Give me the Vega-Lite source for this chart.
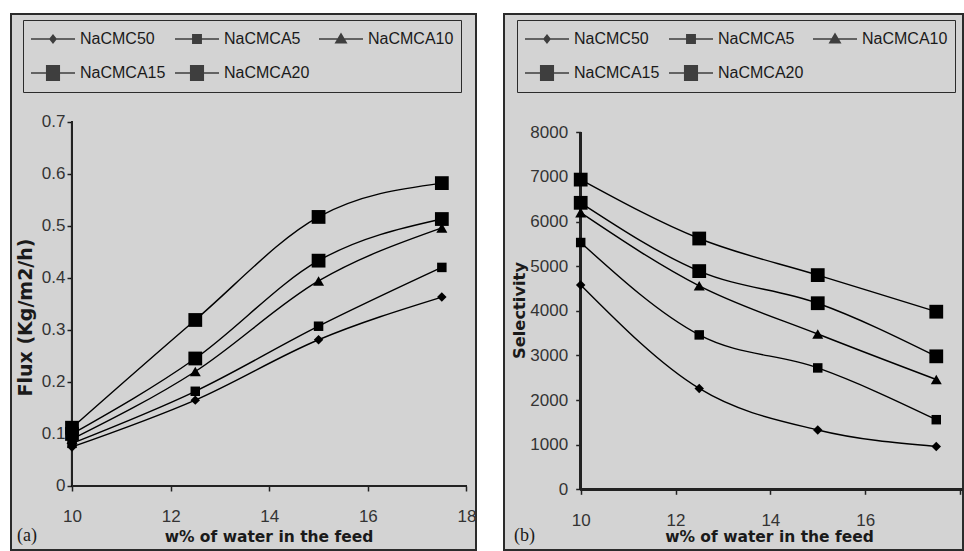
{
  "$schema": "https://vega.github.io/schema/vega-lite/v6.json",
  "background": "white",
  "padding": {"left": 10, "top": 13, "right": 0, "bottom": 0},
  "spacing": 26,
  "datasets": {
    "flux": [
      {"series": "NaCMC50", "w": 10, "v": 0.075}, {"series": "NaCMC50", "w": 12.5, "v": 0.165}, {"series": "NaCMC50", "w": 15, "v": 0.281}, {"series": "NaCMC50", "w": 17.5, "v": 0.363},
      {"series": "NaCMCA5", "w": 10, "v": 0.082}, {"series": "NaCMCA5", "w": 12.5, "v": 0.182}, {"series": "NaCMCA5", "w": 15, "v": 0.307}, {"series": "NaCMCA5", "w": 17.5, "v": 0.42},
      {"series": "NaCMCA10", "w": 10, "v": 0.09}, {"series": "NaCMCA10", "w": 12.5, "v": 0.22}, {"series": "NaCMCA10", "w": 15, "v": 0.394}, {"series": "NaCMCA10", "w": 17.5, "v": 0.496},
      {"series": "NaCMCA15", "w": 10, "v": 0.1}, {"series": "NaCMCA15", "w": 12.5, "v": 0.245}, {"series": "NaCMCA15", "w": 15, "v": 0.433}, {"series": "NaCMCA15", "w": 17.5, "v": 0.513},
      {"series": "NaCMCA20", "w": 10, "v": 0.112}, {"series": "NaCMCA20", "w": 12.5, "v": 0.319}, {"series": "NaCMCA20", "w": 15, "v": 0.517}, {"series": "NaCMCA20", "w": 17.5, "v": 0.582}
    ],
    "sel": [
      {"series": "NaCMC50", "w": 10, "v": 4580}, {"series": "NaCMC50", "w": 12.5, "v": 2260}, {"series": "NaCMC50", "w": 15, "v": 1330}, {"series": "NaCMC50", "w": 17.5, "v": 960},
      {"series": "NaCMCA5", "w": 10, "v": 5530}, {"series": "NaCMCA5", "w": 12.5, "v": 3460}, {"series": "NaCMCA5", "w": 15, "v": 2720}, {"series": "NaCMCA5", "w": 17.5, "v": 1560},
      {"series": "NaCMCA10", "w": 10, "v": 6200}, {"series": "NaCMCA10", "w": 12.5, "v": 4560}, {"series": "NaCMCA10", "w": 15, "v": 3480}, {"series": "NaCMCA10", "w": 17.5, "v": 2460},
      {"series": "NaCMCA15", "w": 10, "v": 6420}, {"series": "NaCMCA15", "w": 12.5, "v": 4890}, {"series": "NaCMCA15", "w": 15, "v": 4170}, {"series": "NaCMCA15", "w": 17.5, "v": 2980},
      {"series": "NaCMCA20", "w": 10, "v": 6940}, {"series": "NaCMCA20", "w": 12.5, "v": 5620}, {"series": "NaCMCA20", "w": 15, "v": 4800}, {"series": "NaCMCA20", "w": 17.5, "v": 3980}
    ]
  },
  "config": {
    "view": {"fill": "#d3d3d3", "stroke": "#2b2b2b", "strokeWidth": 2},
    "axis": {
      "domain": false, "grid": false, "tickColor": "#222222", "tickSize": 5, "tickWidth": 1.5,
      "labelColor": "#333333", "labelFont": "Liberation Sans", "labelFontSize": 17,
      "titleFont": "DejaVu Sans", "titleFontWeight": "bold", "titleColor": "#1a1a1a", "titleBaseline": "alphabetic"
    },
    "legend": {
      "orient": "none", "direction": "horizontal", "columns": 3, "padding": 7,
      "strokeColor": "#2b2b2b", "fillColor": "#d3d3d3",
      "labelFont": "Liberation Sans", "labelFontSize": 16, "labelColor": "#1a1a1a",
      "labelOffset": 26, "symbolSize": 484, "columnPadding": 6, "rowPadding": 14
    }
  },
  "hconcat": [
    {
      "width": 465, "height": 536,
      "title": {"text": "(a)", "orient": "bottom", "anchor": "start", "frame": "group", "offset": -9, "dx": 6, "font": "Liberation Serif", "fontSize": 18, "fontWeight": "normal", "baseline": "alphabetic", "color": "#1a1a1a"},
      "data": {"name": "flux"},
      "encoding": {
        "x": {"field": "w", "type": "quantitative", "scale": {"domain": [8.763, 18.1927], "nice": false, "zero": false},
          "axis": {"title": "w% of water in the feed", "values": [10, 12, 14, 16, 18], "format": "d", "offset": -64, "labelBaseline": "alphabetic", "labelPadding": 30, "titleX": 257.5, "titleY": 55.7, "titleFontSize": 15.5}},
        "y": {"field": "v", "type": "quantitative", "scale": {"domain": [-0.12298, 0.90695], "nice": false, "zero": false},
          "axis": {"title": "Flux (Kg/m2/h)", "values": [0, 0.1, 0.2, 0.3, 0.4, 0.5, 0.6, 0.7], "format": "~g", "offset": -61, "labelPadding": 2, "titleX": -41, "titleY": 303, "titleFontSize": 19}}
      },
      "layer": [
        {"mark": {"type": "rule", "color": "#222222", "strokeWidth": 2}, "encoding": {"x": {"datum": 10}, "y": {"datum": 0}, "y2": {"datum": 0.7}}},
        {"mark": {"type": "rule", "color": "#222222", "strokeWidth": 2}, "encoding": {"y": {"datum": 0}, "x": {"datum": 10}, "x2": {"datum": 18}}},
        {"mark": {"type": "line", "interpolate": "monotone", "color": "black", "strokeWidth": 1.4}, "encoding": {"detail": {"field": "series"}}},
        {"mark": {"type": "point", "filled": true, "color": "black", "opacity": 1},
          "encoding": {
            "shape": {"field": "series", "type": "nominal", "scale": {"domain": ["NaCMC50", "NaCMCA5", "NaCMCA10", "NaCMCA15", "NaCMCA20"], "range": ["diamond", "square", "triangle-up", "square", "square"]}, "legend": null},
            "size": {"field": "series", "type": "nominal", "scale": {"type": "ordinal", "domain": ["NaCMC50", "NaCMCA5", "NaCMCA10", "NaCMCA15", "NaCMCA20"], "range": [90, 90, 121, 190, 190]}, "legend": null}
          }},
        {"transform": [{"filter": "false"}], "mark": {"type": "point", "filled": true, "color": "black"},
          "encoding": {
            "shape": {"field": "series", "type": "nominal",
              "scale": {"domain": ["NaCMC50", "NaCMCA5", "NaCMCA10", "NaCMCA15", "NaCMCA20"],
                "range": [
                  "M-1,-0.06H3V0.06H-1ZM0.64,0L1,-0.45L1.36,0L1,0.45Z",
                  "M-1,-0.06H3V0.06H-1ZM0.55,-0.45H1.45V0.45H0.55Z",
                  "M-1,-0.06H3V0.06H-1ZM1,-0.6L1.59,0.4H0.41Z",
                  "M-1,-0.06H3V0.06H-1ZM0.36,-0.73H1.64V0.73H0.36Z",
                  "M-1,-0.06H3V0.06H-1ZM0.36,-0.73H1.64V0.73H0.36Z"]},
              "legend": {"title": null, "legendX": 12, "legendY": 6,
                "encode": {"symbols": {"update": {"fill": {"value": "black"}, "opacity": {"value": 1}}}, "legend": {"update": {"strokeWidth": {"value": 1.5}}}}}}
          }}
      ],
      "resolve": {"scale": {"shape": "independent"}, "legend": {"shape": "independent"}}
    },
    {
      "width": 459, "height": 536,
      "title": {"text": "(b)", "orient": "bottom", "anchor": "start", "frame": "group", "offset": -9, "dx": 10, "font": "Liberation Serif", "fontSize": 18, "fontWeight": "normal", "baseline": "alphabetic", "color": "#1a1a1a"},
      "data": {"name": "sel"},
      "encoding": {
        "x": {"field": "w", "type": "quantitative", "scale": {"domain": [8.3822, 18.0637], "nice": false, "zero": false},
          "axis": {"title": "w% of water in the feed", "values": [10, 12, 14, 16, 18], "format": "d", "labelExpr": "datum.value == 18 ? '' : datum.label", "offset": -60.7, "labelBaseline": "alphabetic", "labelPadding": 31, "titleX": 265, "titleY": 52.4, "titleFontSize": 15.5}},
        "y": {"field": "v", "type": "quantitative", "scale": {"domain": [-1360, 10651], "nice": false, "zero": false},
          "axis": {"title": "Selectivity", "values": [0, 1000, 2000, 3000, 4000, 5000, 6000, 7000, 8000], "format": "d", "offset": -76.7, "labelPadding": 8, "titleX": -56.7, "titleY": 296, "titleFontSize": 16.3}}
      },
      "layer": [
        {"mark": {"type": "rule", "color": "#222222", "strokeWidth": 2}, "encoding": {"x": {"datum": 10}, "y": {"datum": 0}, "y2": {"datum": 8000}}},
        {"mark": {"type": "rule", "color": "#222222", "strokeWidth": 2}, "encoding": {"y": {"datum": 0}, "x": {"datum": 10}, "x2": {"datum": 18.0637}}},
        {"mark": {"type": "line", "interpolate": "monotone", "color": "black", "strokeWidth": 1.4}, "encoding": {"detail": {"field": "series"}}},
        {"mark": {"type": "point", "filled": true, "color": "black", "opacity": 1},
          "encoding": {
            "shape": {"field": "series", "type": "nominal", "scale": {"domain": ["NaCMC50", "NaCMCA5", "NaCMCA10", "NaCMCA15", "NaCMCA20"], "range": ["diamond", "square", "triangle-up", "square", "square"]}, "legend": null},
            "size": {"field": "series", "type": "nominal", "scale": {"type": "ordinal", "domain": ["NaCMC50", "NaCMCA5", "NaCMCA10", "NaCMCA15", "NaCMCA20"], "range": [90, 90, 121, 190, 190]}, "legend": null}
          }},
        {"transform": [{"filter": "false"}], "mark": {"type": "point", "filled": true, "color": "black"},
          "encoding": {
            "shape": {"field": "series", "type": "nominal",
              "scale": {"domain": ["NaCMC50", "NaCMCA5", "NaCMCA10", "NaCMCA15", "NaCMCA20"],
                "range": [
                  "M-1,-0.06H3V0.06H-1ZM0.64,0L1,-0.45L1.36,0L1,0.45Z",
                  "M-1,-0.06H3V0.06H-1ZM0.55,-0.45H1.45V0.45H0.55Z",
                  "M-1,-0.06H3V0.06H-1ZM1,-0.6L1.59,0.4H0.41Z",
                  "M-1,-0.06H3V0.06H-1ZM0.36,-0.73H1.64V0.73H0.36Z",
                  "M-1,-0.06H3V0.06H-1ZM0.36,-0.73H1.64V0.73H0.36Z"]},
              "legend": {"title": null, "legendX": 13, "legendY": 6,
                "encode": {"symbols": {"update": {"fill": {"value": "black"}, "opacity": {"value": 1}}}, "legend": {"update": {"strokeWidth": {"value": 1.5}}}}}}
          }}
      ],
      "resolve": {"scale": {"shape": "independent"}, "legend": {"shape": "independent"}}
    }
  ]
}
